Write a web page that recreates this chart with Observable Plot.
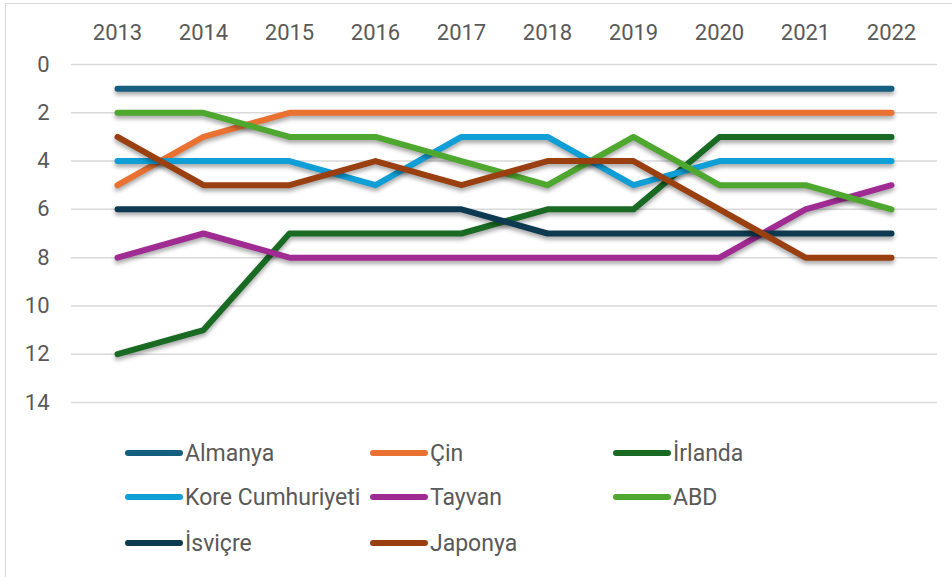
<!DOCTYPE html>
<html>
<head>
<meta charset="utf-8">
<script src="https://cdn.jsdelivr.net/npm/d3@7"></script>
<script src="https://cdn.jsdelivr.net/npm/@observablehq/plot@0.6"></script>
<style>
  html, body { margin: 0; padding: 0; background: #fff; }
  #wrap { position: relative; width: 952px; height: 577px; overflow: hidden; font-family: Roboto, "Liberation Sans", sans-serif; }
  #frame { position: absolute; left: 5px; top: 3px; right: -2px; bottom: -2px; border: 1px solid #d9d9d9; pointer-events: none; }
  #chart { position: absolute; left: 0; top: 0; }
  #legend { position: absolute; left: 125px; top: 0; width: 800px; }
  .item { position: absolute; display: flex; align-items: center; font-size: 23px; color: #595959; white-space: nowrap; }
  .sw { width: 58px; height: 6px; border-radius: 3px; margin-right: 2px; }
</style>
</head>
<body>
<div id="wrap">
  <div id="chart"></div>
  <div id="legend"></div>
  <div id="frame"></div>
</div>
<script>
const years = ["2013","2014","2015","2016","2017","2018","2019","2020","2021","2022"];
const countries = ["Almanya","Çin","İrlanda","Kore Cumhuriyeti","Tayvan","ABD","İsviçre","Japonya"];
const colors = ["#165E80","#E97132","#196B24","#0F9ED5","#A02B93","#4EA72E","#0D3A50","#9A3F10"];

const almanya = [1,1,1,1,1,1,1,1,1,1];
const cin     = [5,3,2,2,2,2,2,2,2,2];
const irlanda = [12,11,7,7,7,6,6,3,3,3];
const kore    = [4,4,4,5,3,3,5,4,4,4];
const tayvan  = [8,7,8,8,8,8,8,8,6,5];
const abd     = [2,2,3,3,4,5,3,5,5,6];
const isvicre = [6,6,6,6,6,7,7,7,7,7];
const japonya = [3,5,5,4,5,4,4,6,8,8];
const yTicks = [0,2,4,6,8,10,12,14];

const series = [almanya, cin, irlanda, kore, tayvan, abd, isvicre, japonya];
const data = [];
series.forEach((vals, i) => vals.forEach((v, j) => data.push({country: countries[i], year: years[j], rank: v})));

const chart = Plot.plot({
  width: 952,
  height: 430,
  marginLeft: 71,
  marginRight: 15,
  marginTop: 64,
  marginBottom: 28,
  style: { fontFamily: "Roboto, 'Liberation Sans', sans-serif", fontSize: "22px", color: "#595959", background: "transparent" },
  x: { type: "point", domain: years, padding: 0.5, axis: "top", tickSize: 0, tickPadding: 25, label: null },
  y: { domain: [0, 14], reverse: true, ticks: yTicks, tickSize: 0, tickPadding: 22, label: null },
  color: { domain: countries, range: colors },
  marks: [
    Plot.ruleY(yTicks, { stroke: "#d9d9d9", strokeWidth: 1.5 }),
    Plot.line(data, { x: "year", y: "rank", z: "country", stroke: "country", strokeWidth: 6, strokeLinecap: "round", strokeLinejoin: "round" })
  ]
});
chart.querySelectorAll('g[aria-label="line"] path').forEach(p => {
  p.style.filter = "drop-shadow(0px 3px 2px rgba(0,0,0,0.35))";
});
document.getElementById("chart").appendChild(chart);

// legend
const legend = document.getElementById("legend");
const colX = [0, 245, 488];
const rowY = [453, 497, 543];
countries.forEach((c, i) => {
  const it = document.createElement("div");
  it.className = "item";
  it.style.left = colX[i % 3] + "px";
  it.style.top = (rowY[Math.floor(i / 3)] - 14) + "px";
  it.style.height = "28px";
  const sw = document.createElement("span");
  sw.className = "sw";
  sw.style.background = colors[i];
  const t = document.createElement("span");
  t.textContent = c;
  it.appendChild(sw);
  it.appendChild(t);
  legend.appendChild(it);
});
</script>
</body>
</html>
